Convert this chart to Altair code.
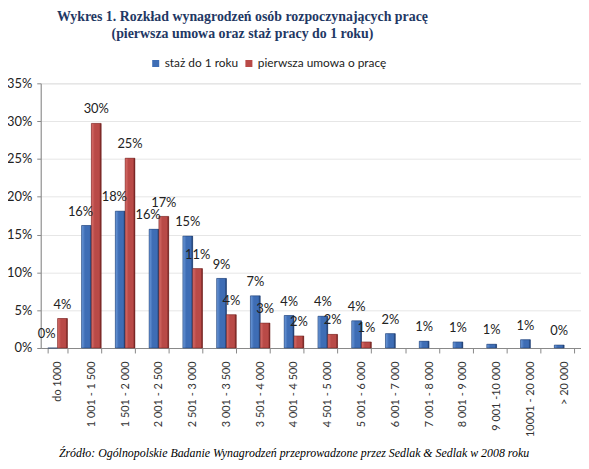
import altair as alt
import pandas as pd

categories = ["do 1000", "1 001 - 1 500", "1 501 - 2 000", "2 001 - 2 500", "2 501 - 3 000",
              "3 001 - 3 500", "3 501 - 4 000", "4 001 - 4 500", "4 501 - 5 000", "5 001 - 6 000",
              "6 001 - 7 000", "7 001 - 8 000", "8 001 - 9 000", "9 001 -10 000", "10001 - 20 000",
              "> 20 000"]
staz = [0.0, 16.2, 18.1, 15.7, 14.8, 9.2, 6.9, 4.3, 4.2, 3.6, 1.9, 0.9, 0.8, 0.5, 1.1, 0.4]
umowa = [3.9, 29.7, 25.1, 17.4, 10.5, 4.4, 3.3, 1.6, 1.8, 0.8, None, None, None, None, None, None]
series = ["staż do 1 roku", "pierwsza umowa o pracę"]
colors = ["#3E6DB5", "#B94A47"]
y_ticks = [0, 5, 10, 15, 20, 25, 30, 35]

rows = []
for i, c in enumerate(categories):
    for s, vals in zip(series, [staz, umowa]):
        v = vals[i]
        if v is None:
            continue
        # blue labels are nudged left when the red neighbour bar is taller
        nudge = s == series[0] and umowa[i] is not None and umowa[i] > staz[i]
        rows.append({"cat": c, "series": s, "value": v, "label": f"{int(v + 0.5)}%",
                     "nudge": bool(nudge)})
df = pd.DataFrame(rows)

x = alt.X("cat:N", sort=categories,
          scale=alt.Scale(paddingInner=0.42, paddingOuter=0.21),
          axis=alt.Axis(title="Źródło: Ogólnopolskie Badanie Wynagrodzeń przeprowadzone przez Sedlak & Sedlak w 2008 roku",
                        titleFont="Liberation Serif", titleFontStyle="italic", titleFontWeight="normal",
                        titleFontSize=12, titleColor="#000000", titleX=255, titleY=109,
                        titleAlign="center", titleBaseline="alphabetic",
                        labelAngle=270, labelFont="Lato", labelFontSize=11, labelColor="#333333",
                        labelPadding=8, tickBand="extent", tickSize=5, tickColor="#888888",
                        domainColor="#888888", grid=False, labelOverlap=False))
xo = alt.XOffset("series:N", sort=series, scale=alt.Scale(paddingInner=0, paddingOuter=0))
y = alt.Y("value:Q", scale=alt.Scale(domain=[0, 35]),
          axis=alt.Axis(title=None, values=y_ticks, tickCount=8,
                        labelExpr="datum.value + '%'", labelFont="Lato", labelFontSize=13,
                        labelColor="#222222", labelPadding=5, tickSize=4, tickColor="#888888",
                        domainColor="#888888", gridColor="#E6E6E6", gridWidth=1,
                        labelOverlap=False))

bars = alt.Chart(df).mark_bar().encode(
    x=x, xOffset=xo, y=y,
    color=alt.Color("series:N", sort=series,
                    scale=alt.Scale(domain=series, range=colors),
                    legend=alt.Legend(title=None, orient="none", direction="horizontal",
                                      legendX=110, legendY=-26, symbolType="square",
                                      symbolSize=50, labelFont="Lato", labelFontSize=12,
                                      labelColor="#222222", columnPadding=4, labelOffset=3,
                                      symbolStrokeWidth=0)),
)

def grad(light, mid, dark):
    return alt.Gradient(gradient="linear", x1=0, x2=1, y1=0, y2=0,
                        stops=[alt.GradientStop(offset=0, color=light),
                               alt.GradientStop(offset=0.35, color=mid),
                               alt.GradientStop(offset=0.8, color=mid),
                               alt.GradientStop(offset=1, color=dark)])

blue_bars = alt.Chart(df).transform_filter(alt.datum.series == series[0]).mark_bar(
    color=grad("#6E9BDA", "#3E6DB5", "#1C3A6A"), stroke="#1C3A6A", strokeWidth=0.5
).encode(x=x, xOffset=xo, y=y)

red_bars = alt.Chart(df).transform_filter(alt.datum.series == series[1]).mark_bar(
    color=grad("#D9706C", "#B94A47", "#6A1E1C"), stroke="#6A1E1C", strokeWidth=0.5
).encode(x=x, xOffset=xo, y=y)

labels = alt.Chart(df).transform_filter(~alt.datum.nudge).mark_text(
    baseline="alphabetic", dy=-10, font="Lato", fontSize=13, color="#222222"
).encode(x=x, xOffset=xo, y=y, text="label:N")

labels_nudged = alt.Chart(df).transform_filter(alt.datum.nudge).mark_text(
    baseline="alphabetic", dy=-10, dx=-6, font="Lato", fontSize=13, color="#222222"
).encode(x=x, xOffset=xo, y=y, text="label:N")

chart = alt.layer(bars, blue_bars, red_bars, labels, labels_nudged).properties(
    width=545, height=267,
    autosize=alt.AutoSizeParams(type="none"),
    padding={"left": 33, "top": 74, "right": 0, "bottom": 112},
    title=alt.Title(["Wykres 1. Rozkład wynagrodzeń osób rozpoczynających pracę",
                     "(pierwsza umowa oraz staż pracy do 1 roku)"],
                    font="Liberation Serif", fontSize=14, fontWeight="bold", color="#1F3864",
                    anchor="middle", dx=-69, offset=17, lineHeight=17, frame="group"),
).configure_view(stroke=None).configure(background="white")

chart.save("out.html", embed_options={"renderer": "svg", "actions": False})
